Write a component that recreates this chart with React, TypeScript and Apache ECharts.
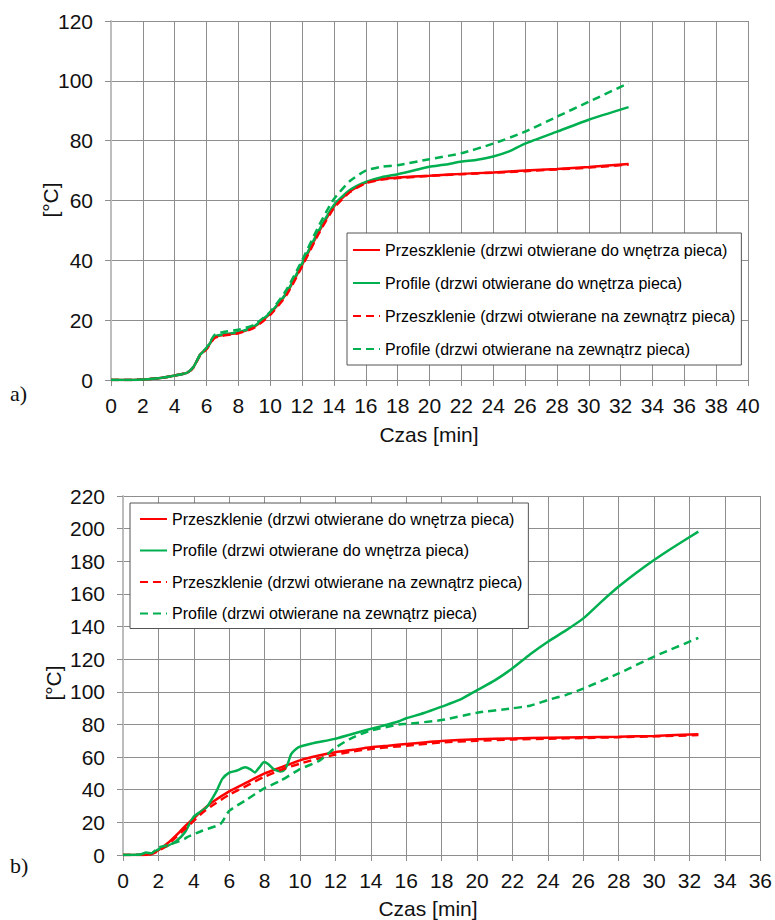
import React, { useEffect, useRef } from "react";
import * as echarts from "echarts";

// ---------- Chart a) ----------
const aGlassInT = [0, 1, 2, 3, 4, 4.8, 5.2, 5.6, 6, 6.5, 7, 8, 9, 10, 11, 12, 13, 14, 15, 16, 17, 18, 20, 22, 24, 26, 28, 30, 32.5];
const aGlassInV = [0, 0, 0.2, 0.6, 1.5, 2.5, 4.5, 8.5, 10.5, 14.3, 15, 15.8, 17.8, 22.3, 28.8, 38.5, 49, 58, 63, 66, 67.2, 67.7, 68.3, 68.9, 69.4, 70, 70.5, 71.2, 72.2];

const aProfInT = [0, 1, 2, 3, 4, 4.8, 5.2, 5.6, 6, 6.5, 7, 8, 9, 10, 11, 12, 13, 14, 15, 16, 17, 18, 19, 20, 21, 22, 23, 24, 25, 26, 28, 30, 32.5];
const aProfInV = [0, 0, 0.2, 0.6, 1.5, 2.5, 4.5, 8.5, 10.5, 14.5, 15.2, 16, 18, 22.5, 29, 39, 49.5, 58.5, 63.5, 66.2, 67.8, 68.8, 70, 71.3, 72, 73, 73.6, 74.7, 76.4, 79, 83, 87, 91.2];

const aGlassOutT = [0, 1, 2, 3, 4, 4.8, 5.2, 5.6, 6, 6.5, 7, 8, 9, 10, 11, 12, 13, 14, 15, 16, 17, 18, 20, 22, 24, 26, 28, 30, 32.5];
const aGlassOutV = [0, 0, 0.2, 0.6, 1.5, 2.5, 4.3, 8.3, 10.3, 14, 14.8, 15.6, 17.5, 21.8, 28.2, 38, 48.5, 57.5, 62.8, 65.8, 67, 67.5, 68.2, 68.8, 69.3, 69.8, 70.4, 71, 72];

const aProfOutT = [0, 1, 2, 3, 4, 4.8, 5.2, 5.6, 6, 6.5, 7, 8, 9, 10, 11, 12, 13, 13.5, 14, 15, 16, 17, 18, 20, 22, 24, 26, 28, 30, 32.5];
const aProfOutV = [0, 0, 0.2, 0.6, 1.5, 2.5, 4.5, 8.5, 10.8, 15, 16, 16.8, 18.5, 22.8, 30, 40, 51, 56, 60.5, 66.5, 70, 71.3, 71.8, 73.8, 75.8, 79, 83, 88, 93, 99.2];

// ---------- Chart b) ----------
const bGlassInT = [0, 1, 1.5, 2, 2.5, 3, 3.5, 4, 4.5, 5, 6, 7, 8, 9, 10, 11, 12, 13, 14, 15, 16, 18, 20, 22, 24, 26, 28, 30, 32.5];
const bGlassInV = [0, 0, 0.5, 3, 7, 12, 17.5, 22.5, 27.5, 32, 39, 44.5, 50, 54, 58, 60.8, 63, 64.5, 66, 67, 68, 69.8, 70.9, 71.4, 71.9, 72.2, 72.5, 73, 74];

const bProfInT = [0, 1, 1.3, 1.6, 2, 2.5, 3, 3.5, 4, 4.7, 5.3, 5.6, 6, 6.4, 6.9, 7.2, 7.45, 7.7, 7.97, 8.2, 8.5, 8.9, 9.1, 9.3, 9.5, 9.9, 10.7, 11.9, 12.8, 13.7, 14.6, 15.6, 16, 17, 18, 19, 20, 21, 22, 23, 24, 25, 26, 27, 28, 29, 30, 31, 32.5];
const bProfInV = [0, 0.3, 1.5, 1, 3.5, 5.5, 8.5, 14, 23.5, 29, 39.5, 46.5, 50.5, 51.6, 53.7, 52.5, 50.6, 53.7, 57, 55.7, 52.7, 51.2, 52, 55.7, 61.8, 66, 68.4, 71, 73.7, 76.5, 79, 82, 83.8, 87, 90.9, 95, 101, 107, 114.4, 123, 130.7, 137.5, 145, 155, 164.5, 173, 180.8, 188, 198.2];

const bGlassOutT = [0, 1.2, 1.6, 2, 2.5, 3, 3.5, 4, 4.5, 5, 6, 7, 8, 9, 10, 11, 12, 13, 14, 16, 18, 20, 22, 24, 26, 28, 30, 32.5];
const bGlassOutV = [0, 0, 0.5, 2.5, 6, 11, 16, 21, 26, 30, 37, 42.5, 48, 52.5, 56, 59, 61.5, 63.5, 65, 67, 69, 70, 70.8, 71.3, 71.7, 72.2, 72.7, 73.5];

const bProfOutT = [0, 1, 1.3, 1.6, 2, 2.5, 3, 3.5, 3.6, 4.5, 5.5, 6, 7, 7.9, 8.9, 10, 11.1, 11.9, 12.8, 13.9, 15.6, 16, 18, 20, 22, 23, 24, 25, 26, 28, 30, 32.5];
const bProfOutV = [0, 0.3, 1.5, 1, 4.5, 6, 7.8, 10, 10.8, 15, 19, 27, 34, 40.4, 45.5, 52.6, 57.8, 65, 71, 76, 80, 80.3, 82.7, 87.2, 89.9, 91.5, 95, 98, 102, 111.3, 121.6, 133];

const seriesNames = [
  "Przeszklenie (drzwi otwierane do wnętrza pieca)",
  "Profile (drzwi otwierane do wnętrza pieca)",
  "Przeszklenie (drzwi otwierane na zewnątrz pieca)",
  "Profile (drzwi otwierane na zewnątrz pieca)",
];
const xAxisTitle = "Czas [min]";
const yAxisTitle = "[°C]";

const RED = "#ff0000";
const GREEN = "#00b050";
const SANS = "Liberation Sans, Arial, sans-serif";
const GRID_COLOR = "#8e8e8e";

const pairs = (xs: number[], ys: number[]) => xs.map((x, i) => [x, ys[i]]);

export default function App() {
  const ref = useRef<HTMLDivElement>(null);
  useEffect(() => {
    if (!ref.current) return;
    const chart = echarts.init(ref.current, undefined, { renderer: "svg" });

    const mkX = (idx: number, max: number) => ({
      type: "value",
      gridIndex: idx,
      min: 0,
      max,
      interval: 2,
      axisLine: { show: true, onZero: false, lineStyle: { color: GRID_COLOR, width: 1 } },
      axisTick: { show: true, length: 6, lineStyle: { color: GRID_COLOR } },
      axisLabel: { fontSize: 21, fontFamily: SANS, color: "#111", margin: 15 },
      splitLine: { show: true, lineStyle: { color: GRID_COLOR, width: 1 } },
    });
    const mkY = (idx: number, max: number) => ({
      type: "value",
      gridIndex: idx,
      min: 0,
      max,
      interval: 20,
      axisLine: { show: true, lineStyle: { color: "#bdbdbd", width: 2 } },
      axisTick: { show: true, length: 6, lineStyle: { color: GRID_COLOR } },
      axisLabel: { fontSize: 21, fontFamily: SANS, color: "#111", margin: 18 },
      splitLine: { show: true, lineStyle: { color: GRID_COLOR, width: 1 } },
    });

    const styles = [
      { color: RED, type: "solid" },
      { color: GREEN, type: "solid" },
      { color: RED, type: [8, 5] },
      { color: GREEN, type: [8, 5] },
    ];
    const mkSeries = (idx: number, data: number[][][]) =>
      data.map((d, i) => ({
        name: seriesNames[i],
        type: "line",
        xAxisIndex: idx,
        yAxisIndex: idx,
        data: d,
        symbol: "none",
        smooth: 0.2,
        color: styles[i].color,
        lineStyle: { color: styles[i].color, width: 2.5, type: styles[i].type },
      }));

    const mkLegend = (left: number, top: number, gap: number, padding: number[]) => ({
      orient: "vertical",
      left,
      top,
      itemWidth: 27,
      itemHeight: 14,
      itemGap: gap,
      padding,
      borderColor: "#555",
      borderWidth: 1,
      borderRadius: 0,
      backgroundColor: "#fff",
      selectedMode: false,
      itemStyle: { opacity: 0 },
      textStyle: { fontSize: 16, fontFamily: SANS, color: "#000", padding: [0, 0, 0, 0] },
      data: seriesNames,
    });

    const txt = (x: number, y: number, text: string, opts: any = {}) => ({
      type: "text",
      x,
      y,
      rotation: opts.rotation || 0,
      style: {
        text,
        fontSize: opts.fontSize || 21,
        fontFamily: opts.fontFamily || SANS,
        fill: "#111",
        align: opts.align || "center",
        verticalAlign: "middle",
      },
    });

    chart.setOption({
      animation: false,
      backgroundColor: "#fff",
      grid: [
        { left: 111, top: 21, width: 637, height: 359, containLabel: false },
        { left: 123, top: 496, width: 638, height: 359, containLabel: false },
      ],
      xAxis: [mkX(0, 40), mkX(1, 36)],
      yAxis: [mkY(0, 120), mkY(1, 220)],
      legend: [
        mkLegend(347, 233, 17, [9, 6, 8, 5]),
        mkLegend(130, 503, 15.5, [8, 6, 7, 9]),
      ],
      series: [
        ...mkSeries(0, [
          pairs(aGlassInT, aGlassInV),
          pairs(aProfInT, aProfInV),
          pairs(aGlassOutT, aGlassOutV),
          pairs(aProfOutT, aProfOutV),
        ]),
        ...mkSeries(1, [
          pairs(bGlassInT, bGlassInV),
          pairs(bProfInT, bProfInV),
          pairs(bGlassOutT, bGlassOutV),
          pairs(bProfOutT, bProfOutV),
        ]),
      ],
      graphic: [
        txt(429, 434, xAxisTitle),
        txt(428, 908, xAxisTitle),
        txt(50, 200, yAxisTitle, { rotation: Math.PI / 2 }),
        txt(53, 683, yAxisTitle, { rotation: Math.PI / 2 }),
        txt(10, 393, "a)", { fontFamily: "Liberation Serif, Times New Roman, serif", fontSize: 22, align: "left" }),
        txt(10, 865, "b)", { fontFamily: "Liberation Serif, Times New Roman, serif", fontSize: 22, align: "left" }),
      ],
    });
    return () => chart.dispose();
  }, []);
  return (
    <div
      ref={ref}
      style={{ position: "absolute", left: 0, top: 0, width: 775, height: 920, background: "#fff" }}
    />
  );
}
